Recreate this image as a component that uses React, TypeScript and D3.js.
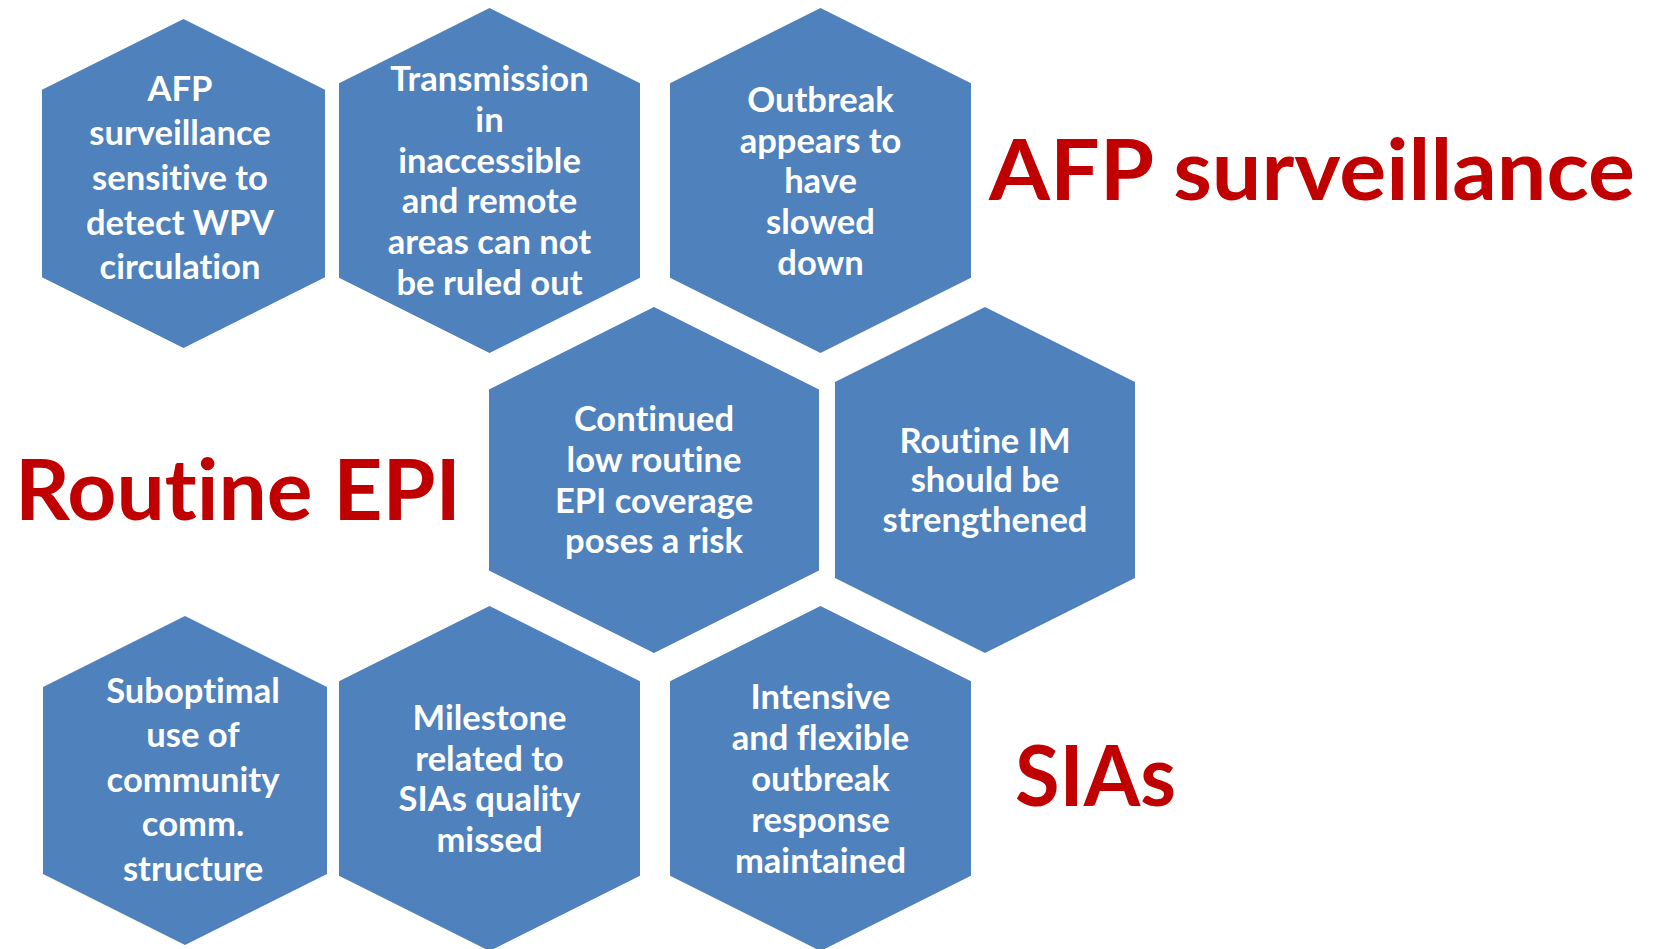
import React, { useMemo } from "react";
import * as d3 from "d3";

// ---- data ----
const hexLabels: string[][] = [
  ["AFP", "surveillance", "sensitive to", "detect WPV", "circulation"],
  ["Transmission", "in", "inaccessible", "and remote", "areas can not", "be ruled out"],
  ["Outbreak", "appears to", "have", "slowed", "down"],
  ["Continued", "low routine", "EPI coverage", "poses a risk"],
  ["Routine IM", "should be", "strengthened"],
  ["Suboptimal", "use of", "community", "comm.", "structure"],
  ["Milestone", "related to", "SIAs quality", "missed"],
  ["Intensive", "and flexible", "outbreak", "response", "maintained"],
];
const titles: string[] = ["AFP surveillance", "Routine EPI", "SIAs"];

// ---- layout (diagram geometry) ----
const hexBoxes = [
  { x0: 42, x1: 325, y0: 19, y1: 348, lh: 44.7, dy: -6, dx: -3.5 },
  { x0: 339, x1: 640, y0: 8, y1: 353, lh: 40.8, dy: 0, dx: 0 },
  { x0: 670, x1: 971, y0: 8, y1: 353, lh: 40.8, dy: 0.5, dx: 0 },
  { x0: 489, x1: 819, y0: 307, y1: 653, lh: 40.7, dy: 0, dx: 0 },
  { x0: 835, x1: 1135, y0: 307, y1: 653, lh: 39.8, dy: 0, dx: 0 },
  { x0: 43, x1: 327, y0: 616, y1: 945, lh: 44.5, dy: -1, dx: 8 },
  { x0: 339, x1: 640, y0: 606, y1: 951, lh: 40.7, dy: 0, dx: 0 },
  { x0: 670, x1: 971, y0: 606, y1: 951, lh: 41, dy: 0, dx: 0 },
];
const titleBoxes = [
  { x0: 989, x1: 1635, base: 200 },
  { x0: 15, x1: 461, base: 520 },
  { x0: 1015, x1: 1176, base: 806 },
];

const W = 1654;
const H = 949;
const BLUE = "#4F81BD";
const RED = "#C00000";
const FONT = "Lato, 'Open Sans', sans-serif";
const noLig: React.CSSProperties = {
  fontVariantLigatures: "none",
  fontFeatureSettings: '"liga" 0, "clig" 0',
};

function measure(txt: string, font: string): number {
  if (typeof document === "undefined") return 0;
  const c = document.createElement("canvas");
  const ctx = c.getContext("2d");
  if (!ctx) return 0;
  ctx.font = font;
  return ctx.measureText(txt).width;
}

export default function App() {
  const hexFs = useMemo(() => {
    const m = measure("strengthened", "bold 30px Lato");
    return m > 0 ? (30 * 205) / m : 30;
  }, []);

  const line = d3.line<[number, number]>().curve(d3.curveLinearClosed);

  return (
    <svg
      width={W}
      height={H}
      viewBox={`0 0 ${W} ${H}`}
      style={{ position: "absolute", left: 0, top: 0, display: "block", background: "#fff" }}
    >
      {hexBoxes.map((b, i) => {
        const cx = (b.x0 + b.x1) / 2;
        const w = b.x1 - b.x0;
        const s = w / 4;
        const cy = (b.y0 + b.y1) / 2;
        const pts: [number, number][] = [
          [cx, b.y0],
          [b.x1, b.y0 + s],
          [b.x1, b.y1 - s],
          [cx, b.y1],
          [b.x0, b.y1 - s],
          [b.x0, b.y0 + s],
        ];
        const lines = hexLabels[i];
        const n = lines.length;
        return (
          <g key={i}>
            <path d={line(pts) || ""} fill={BLUE} />
            {lines.map((t, j) => (
              <text
                key={j}
                x={cx + b.dx}
                y={cy + b.dy + (j - (n - 1) / 2) * b.lh + 0.36 * hexFs}
                textAnchor="middle"
                fill="#fff"
                fontFamily={FONT}
                fontWeight="bold"
                fontSize={hexFs}
                style={noLig}
              >
                {t}
              </text>
            ))}
          </g>
        );
      })}
      {titles.map((t, i) => {
        const b = titleBoxes[i];
        return (
          <text
            key={t}
            x={b.x0}
            y={b.base}
            fill={RED}
            fontFamily={FONT}
            fontWeight="bold"
            fontSize={85}
            textLength={b.x1 - b.x0}
            lengthAdjust="spacingAndGlyphs"
            style={noLig}
          >
            {t}
          </text>
        );
      })}
    </svg>
  );
}
